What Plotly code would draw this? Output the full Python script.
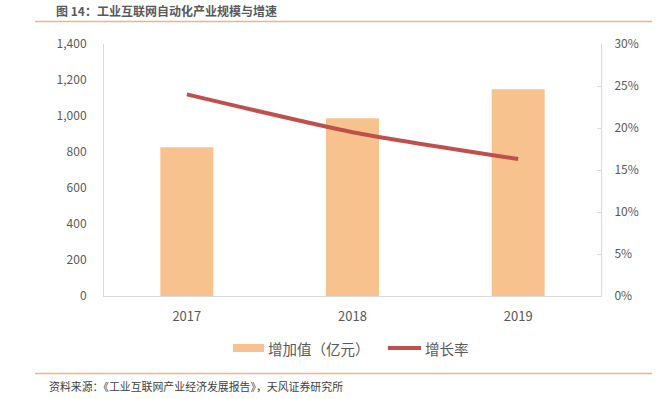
import plotly.graph_objects as go

years = ["2017", "2018", "2019"]
value_added = [826, 988, 1149]          # 增加值（亿元）
growth_rate = [0.240, 0.195, 0.163]     # 增长率

left_ticks = [0, 200, 400, 600, 800, 1000, 1200, 1400]
right_ticks = [0, 0.05, 0.10, 0.15, 0.20, 0.25, 0.30]

title_text = "图 14：工业互联网自动化产业规模与增速"
source_text = "资料来源：《工业互联网产业经济发展报告》，天风证券研究所"
bar_name = "增加值（亿元）"
line_name = "增长率"

FONT = "Noto Sans CJK SC, Liberation Sans, sans-serif"
GRAY = "#595959"
AXIS = "#D9D9D9"
BAR = "#F8C28F"
LINE = "#C0504D"
ORANGE_RULE = "#F4B183"

W, H = 664, 399
L, R, T, B = 104, 63, 44, 103
PW, PH = W - L - R, H - T - B


def px(x):
    return (x - L) / PW


def py(y):
    return (H - B - y) / PH


fig = go.Figure()
fig.add_trace(go.Bar(
    x=years, y=value_added, name=bar_name,
    marker=dict(color=BAR, line=dict(width=0)), width=0.32,
    yaxis="y", showlegend=False,
))
fig.add_trace(go.Scatter(
    x=years, y=growth_rate, name=line_name, mode="lines",
    line=dict(color=LINE, width=4, shape="spline", smoothing=0.6),
    yaxis="y2", showlegend=False,
))

fig.update_layout(
    width=W, height=H,
    margin=dict(l=L, r=R, t=T, b=B, autoexpand=False),
    paper_bgcolor="white", plot_bgcolor="white",
    font=dict(family=FONT, size=12, color=GRAY),
    showlegend=False,
    xaxis=dict(showline=True, linecolor=AXIS, linewidth=1, ticks="", showgrid=False,
               tickfont=dict(size=13, color=GRAY), ticklabelstandoff=8),
    yaxis=dict(range=[0, 1400], tickvals=left_ticks, tickformat=",d",
               showline=True, linecolor=AXIS, linewidth=1, showgrid=False, zeroline=False,
               ticks="", tickfont=dict(size=12, color=GRAY), ticklabelstandoff=14),
    yaxis2=dict(range=[0, 0.30], tickvals=right_ticks, tickformat=".0%",
                overlaying="y", side="right",
                showline=True, linecolor=AXIS, linewidth=1, showgrid=False, zeroline=False,
                ticks="inside", ticklen=4, tickcolor=AXIS,
                tickfont=dict(size=12, color=GRAY), ticklabelstandoff=10),
)

# title and source text (centre-anchored so their spans match the reference)
fig.add_annotation(text="<b>" + title_text + "</b>", xref="paper", yref="paper",
                   x=px(166), y=py(10), showarrow=False, xanchor="center", yanchor="middle",
                   font=dict(size=12, color=GRAY, family=FONT))
fig.add_annotation(text=source_text, xref="paper", yref="paper",
                   x=px(196), y=py(386), showarrow=False, xanchor="center", yanchor="middle",
                   font=dict(size=10.9, color="#404040", family=FONT))

# orange rules
for ypix in (21.5, 373.5):
    fig.add_shape(type="line", xref="paper", yref="paper",
                  x0=px(35), x1=px(652), y0=py(ypix), y1=py(ypix),
                  line=dict(color=ORANGE_RULE, width=1.5))

# custom legend
fig.add_shape(type="rect", xref="paper", yref="paper",
              x0=px(233), x1=px(264), y0=py(352), y1=py(344),
              fillcolor=BAR, line=dict(width=0))
fig.add_annotation(text=bar_name, xref="paper", yref="paper",
                   x=px(319), y=py(348), showarrow=False, xanchor="center", yanchor="middle",
                   font=dict(size=14.5, color=GRAY, family=FONT))
fig.add_shape(type="line", xref="paper", yref="paper",
              x0=px(388), x1=px(421), y0=py(348), y1=py(348),
              line=dict(color=LINE, width=4))
fig.add_annotation(text=line_name, xref="paper", yref="paper",
                   x=px(447), y=py(348), showarrow=False, xanchor="center", yanchor="middle",
                   font=dict(size=14.5, color=GRAY, family=FONT))

fig.write_html("out.html", config={"displayModeBar": False},
               post_script="document.body.style.margin='0px';")
